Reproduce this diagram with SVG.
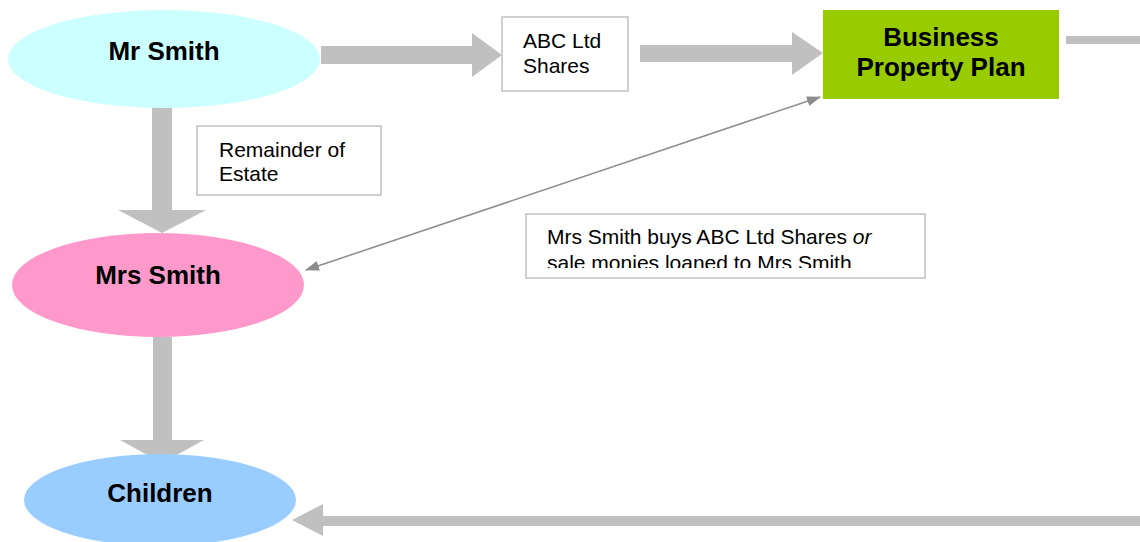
<svg xmlns="http://www.w3.org/2000/svg" width="1140" height="542" viewBox="0 0 1140 542">
  <style>
    .flow { fill: #C0C0C0; }
    .label-box { fill: #FFFFFF; stroke: #C0C0C0; stroke-width: 1.5; }
    .node-text { font-family: "Liberation Sans", Arial, sans-serif; font-weight: bold; font-size: 26px; fill: #000000; }
    .note { font-family: "Liberation Sans", Arial, sans-serif; font-size: 21px; fill: #000000; }
    .link { stroke: #8C8C8C; stroke-width: 1.5; fill: none; }
  </style>
  <defs>
    <marker id="thin-head" viewBox="0 0 14 10" refX="13" refY="5" markerWidth="14" markerHeight="10" markerUnits="userSpaceOnUse" orient="auto-start-reverse">
      <path d="M0,0 L14,5 L0,10 Z" fill="#8C8C8C"/>
    </marker>
    <clipPath id="note-clip">
      <rect x="526" y="214" width="400" height="54"/>
    </clipPath>
  </defs>

  <rect width="1140" height="542" fill="#FFFFFF"/>

  <!-- connectors -->
  <g id="connectors">
    <!-- Mr Smith to ABC Ltd Shares -->
    <path class="flow" d="M321,46 L472,46 L472,33 L502,55 L472,77 L472,64 L321,64 Z"/>
    <!-- ABC Ltd Shares to Business Property Plan -->
    <path class="flow" d="M640,45 L792,45 L792,32 L823,53 L792,75 L792,62 L640,62 Z"/>
    <!-- stub leaving Business Property Plan -->
    <rect class="flow" x="1066" y="36" width="74" height="8"/>
    <!-- Mr Smith to Mrs Smith -->
    <path class="flow" d="M152,106 L172,106 L172,210 L206,210 L162,233 L118,210 L152,210 Z"/>
    <!-- Mrs Smith to Children -->
    <path class="flow" d="M153,337 L172,337 L172,440 L204,440 L162,463 L120,440 L153,440 Z"/>
    <!-- return flow to Children -->
    <path class="flow" d="M1140,516 L323,516 L323,504 L292,520 L323,536 L323,526 L1140,526 Z"/>
    <!-- two-way link between Business Property Plan and Mrs Smith -->
    <line class="link" x1="306" y1="270" x2="820" y2="97" marker-start="url(#thin-head)" marker-end="url(#thin-head)"/>
  </g>

  <g id="mr-smith">
    <ellipse cx="164" cy="59" rx="156" ry="49" fill="#CCFFFF"/>
    <text class="node-text" x="164" y="60" text-anchor="middle">Mr Smith</text>
  </g>

  <g id="abc-shares">
    <rect class="label-box" x="502" y="17" width="126" height="74"/>
    <text class="note" x="523" y="48">ABC Ltd</text>
    <text class="note" x="523" y="73">Shares</text>
  </g>

  <g id="business-property-plan">
    <rect x="823" y="10" width="236" height="89" fill="#99CC00"/>
    <text class="node-text" x="941" y="46" text-anchor="middle">Business</text>
    <text class="node-text" x="941" y="76" text-anchor="middle">Property Plan</text>
  </g>

  <g id="remainder-of-estate">
    <rect class="label-box" x="197" y="126" width="184" height="69"/>
    <text class="note" x="219" y="157">Remainder of</text>
    <text class="note" x="219" y="181">Estate</text>
  </g>

  <g id="share-purchase-note">
    <rect class="label-box" x="526" y="214" width="399" height="64"/>
    <g clip-path="url(#note-clip)">
      <text class="note" x="547" y="244">Mrs Smith buys ABC Ltd Shares <tspan font-style="italic">or</tspan></text>
      <text class="note" x="547" y="270">sale monies loaned to Mrs Smith</text>
    </g>
  </g>

  <g id="mrs-smith">
    <ellipse cx="158" cy="285" rx="146" ry="52" fill="#FF99CC"/>
    <text class="node-text" x="158" y="284" text-anchor="middle">Mrs Smith</text>
  </g>

  <g id="children">
    <ellipse cx="160" cy="500" rx="136" ry="46" fill="#99CCFF"/>
    <text class="node-text" x="160" y="502" text-anchor="middle">Children</text>
  </g>
</svg>
